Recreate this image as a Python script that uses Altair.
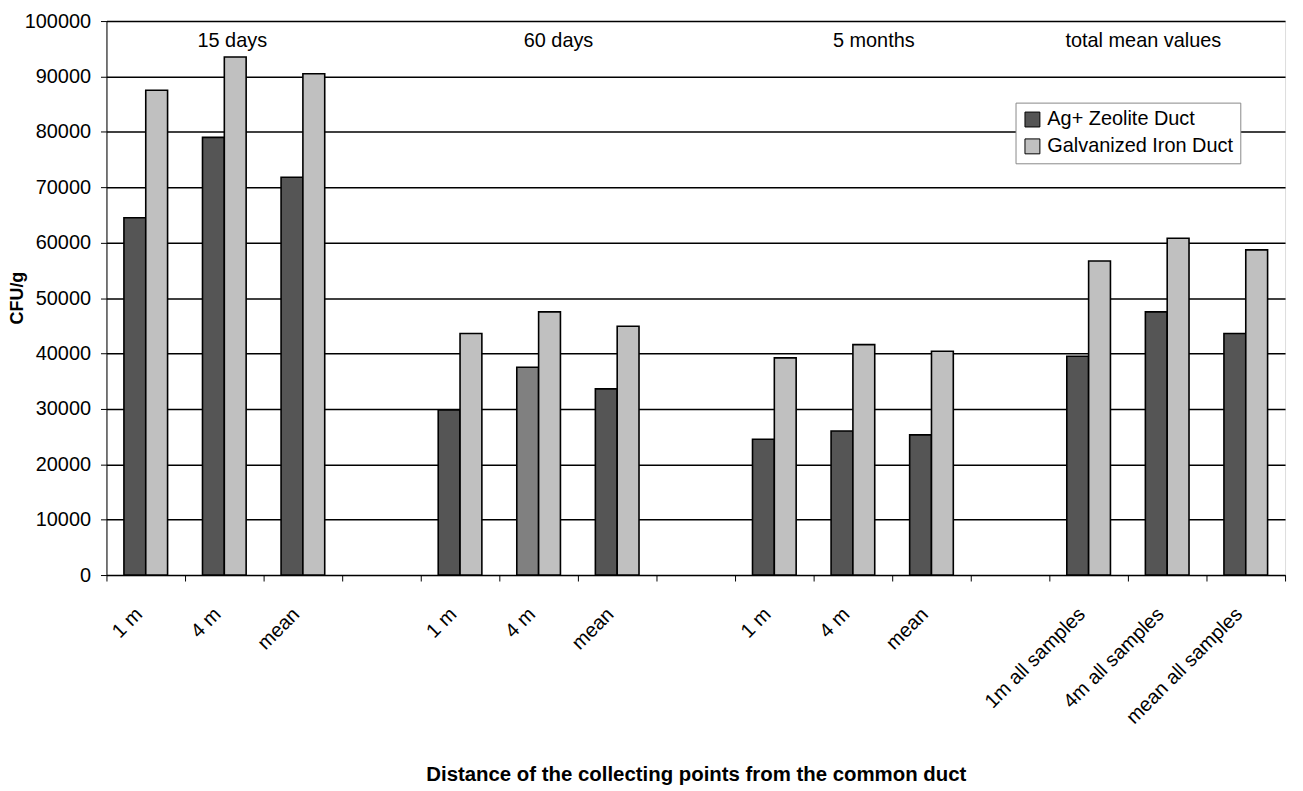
import altair as alt
import pandas as pd

# ---- data ----
categories = ["15d|1 m", "15d|4 m", "15d|mean", "gap1|",
              "60d|1 m", "60d|4 m", "60d|mean", "gap2|",
              "5mo|1 m", "5mo|4 m", "5mo|mean", "gap3|",
              "tot|1m all samples", "tot|4m all samples", "tot|mean all samples"]
series = ["Ag+ Zeolite Duct", "Galvanized Iron Duct"]
ag_zeolite = [64500, 79000, 71800, None, 29800, 37500, 33600, None,
              24500, 26000, 25300, None, 39500, 47500, 43600]
galv_iron = [87500, 93500, 90500, None, 43600, 47500, 44900, None,
             39200, 41600, 40400, None, 56700, 60800, 58700]
y_ticks = [0, 10000, 20000, 30000, 40000, 50000, 60000, 70000, 80000, 90000, 100000]
group_labels = ["15 days", "60 days", "5 months", "total mean values"]
group_anchor = ["15d|4 m", "60d|4 m", "5mo|4 m", "tot|4m all samples"]
group_dx = [8, 20, 21, -24]

rows = []
for c, a, g in zip(categories, ag_zeolite, galv_iron):
    if a is not None:
        rows.append({"cat": c, "series": series[0], "value": a})
    if g is not None:
        rows.append({"cat": c, "series": series[1], "value": g})
df = pd.DataFrame(rows)

FONT = "Liberation Sans"

xscale = alt.Scale(domain=categories, paddingInner=0, paddingOuter=0)
yscale = alt.Scale(domain=[0, 100000], nice=False)

bars = alt.Chart(df).mark_bar(stroke="black", strokeWidth=1.6).encode(
    x=alt.X("cat:N", scale=xscale, sort=categories,
            axis=alt.Axis(title="Distance of the collecting points from the common duct",
                          labelExpr="split(datum.label, '|')[1]",
                          labelAngle=-45, labelAlign="right", labelBaseline="middle",
                          labelFontSize=20, labelPadding=30, labelOffset=-7,
                          labelColor="black", labelOverlap=False, labelLimit=0,
                          tickBand="extent", tickSize=6, tickColor="black",
                          domainColor="black", grid=False,
                          titleFontSize=20.5, titleFontWeight="bold", titleColor="black",
                          titleY=201, titleBaseline="middle")),
    xOffset=alt.XOffset("series:N", sort=series,
                        scale=alt.Scale(paddingOuter=0.8, paddingInner=0)),
    y=alt.Y("value:Q", scale=yscale,
            axis=alt.Axis(title="CFU/g", values=y_ticks, format="d",
                          labelOverlap=False,
                          labelFontSize=20, labelColor="black", labelPadding=10,
                          tickSize=6, tickColor="black", domainColor="black",
                          gridColor="black", gridWidth=1.5,
                          titleFontSize=18, titleFontWeight="bold", titleColor="black",
                          titleX=-89, titleY=278, titleBaseline="middle")),
    fill=alt.condition(
        (alt.datum.cat == "60d|4 m") & (alt.datum.series == series[0]),
        alt.value("#808080"),
        alt.Fill("series:N", sort=series,
                 scale=alt.Scale(domain=series, range=["#555555", "#c0c0c0"]),
                 legend=alt.Legend(title=None, orient="none", legendX=914, legendY=82,
                                   symbolType="square", symbolSize=225,
                                   symbolStrokeColor="black", symbolStrokeWidth=1,
                                   labelFontSize=20, labelColor="black", labelFont=FONT,
                                   labelLimit=0, labelOffset=5,
                                   fillColor="white", strokeColor="#888888",
                                   padding=7, rowPadding=7)),
    ),
)

layers = [bars]
for lab, anc, dx in zip(group_labels, group_anchor, group_dx):
    t = alt.Chart(pd.DataFrame({"cat": [anc], "label": [lab]})).mark_text(
        fontSize=20, font=FONT, color="black", dx=dx, baseline="middle", align="center"
    ).encode(
        x=alt.X("cat:N", scale=xscale, sort=categories),
        y=alt.value(20),
        text="label:N",
    )
    layers.append(t)

chart = alt.layer(*layers).properties(
    width=1185, height=557,
    autosize=alt.AutoSizeParams(type="none"),
    padding={"left": 99, "top": 11, "right": 10, "bottom": 215},
).configure_view(stroke="black", strokeWidth=1.5).configure_axis(
    labelFont=FONT, titleFont=FONT
).configure(background="white")

chart.save("out.html", embed_options={"renderer": "svg", "actions": False})
